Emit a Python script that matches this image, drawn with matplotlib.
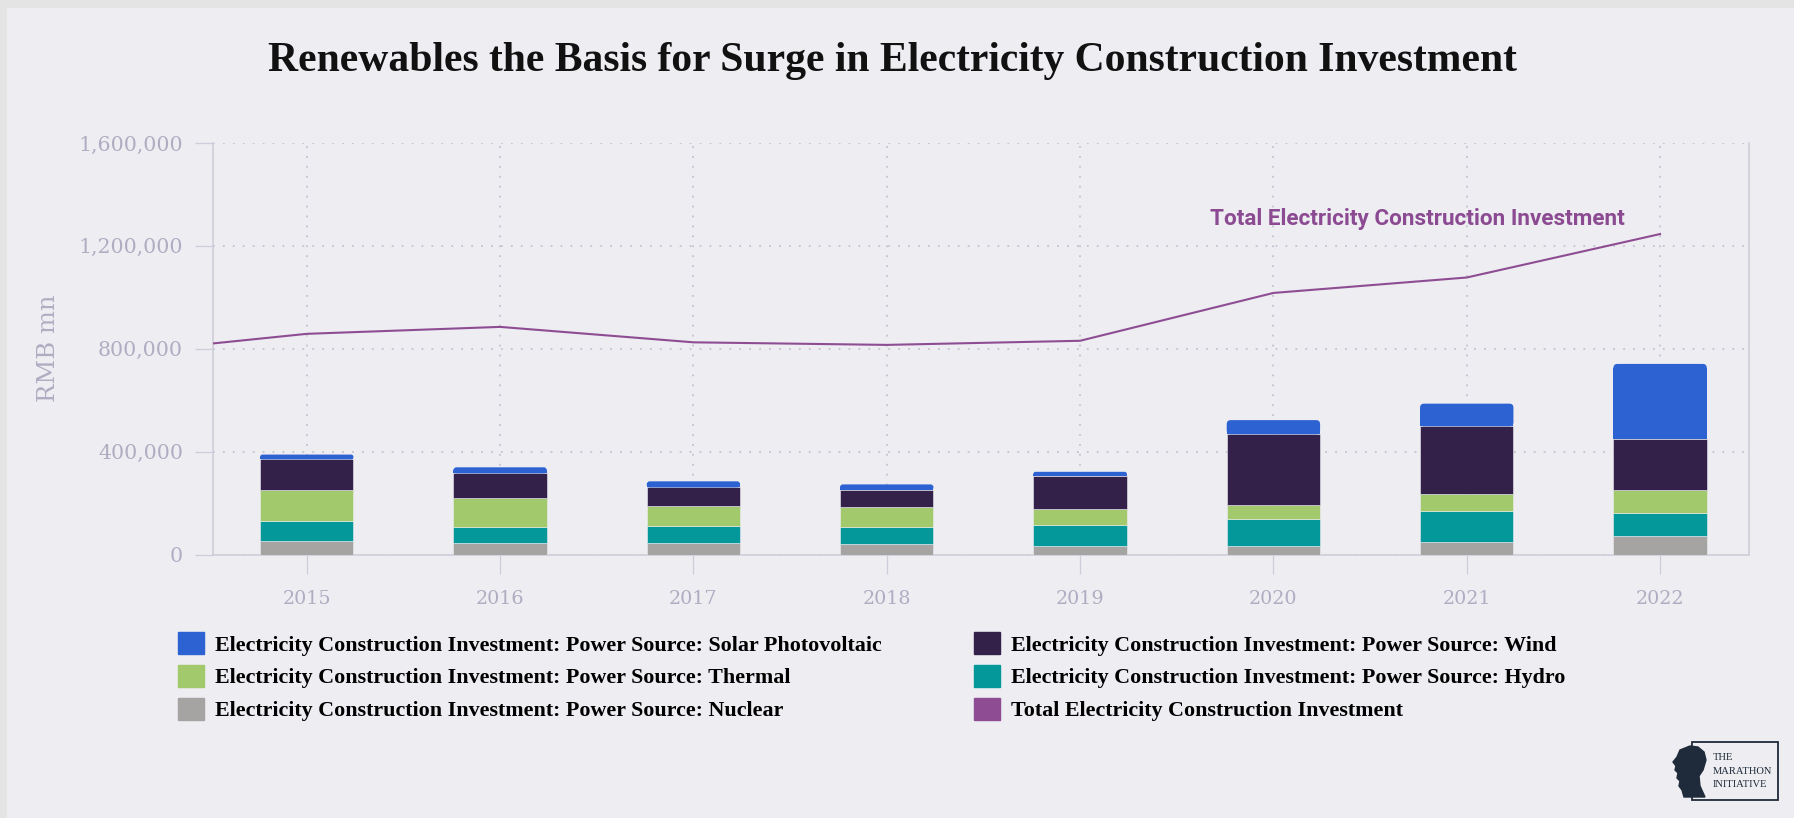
import numpy as np
import matplotlib.pyplot as plt
from matplotlib.patches import Patch, Rectangle, Polygon, FancyBboxPatch
from matplotlib.ticker import FuncFormatter

# canvas size in pixels (dpi 100)
W, H = 1794, 818

years = [2015, 2016, 2017, 2018, 2019, 2020, 2021, 2022]

# RMB mn, by power source
nuclear = [51000, 44000, 43500, 41000, 33000, 33000, 48500, 73500]
hydro = [81000, 64500, 65500, 64500, 80500, 104000, 120000, 87000]
thermal = [119000, 111000, 78500, 80500, 64500, 56500, 66000, 89500]
wind = [119000, 96000, 73500, 64500, 127500, 274000, 264000, 201000]
solar = [18500, 23500, 23500, 22000, 16000, 55000, 88000, 290000]

# total investment (2014 point sits just outside the left edge)
total_years = [2014, 2015, 2016, 2017, 2018, 2019, 2020, 2021, 2022]
total = [781000, 858000, 885000, 825000, 815000, 831000, 1017000, 1077000, 1246000]

yticks = [0, 400000, 800000, 1200000, 1600000]

prefix = 'Electricity Construction Investment: Power Source: '
series = [
    ('Nuclear', nuclear, '#A5A4A2'),
    ('Hydro', hydro, '#05989A'),
    ('Thermal', thermal, '#A2C96B'),
    ('Wind', wind, '#33214A'),
    ('Solar Photovoltaic', solar, '#2C62D1'),
]
total_label = 'Total Electricity Construction Investment'
total_color = '#8E4D93'

bg = '#EDEDF2'
axis_col = '#CFCDD9'
text_col = '#B0ADC2'
grid_col = '#C4C2D0'

XLIM = (2014.515, 2022.46)
YLIM = (0, 1600000)
BAR_W = 0.483


def px(x, y):
    # pixel position measured from the top-left corner -> figure fraction
    return x / W, 1 - y / H


fig = plt.figure(figsize=(W / 100, H / 100), dpi=100, facecolor=bg)

# thin frame strips on top and left
fig.patches.append(Rectangle((0, 1 - 8 / H), 1, 8 / H, transform=fig.transFigure,
                             facecolor='#E4E4E4', edgecolor='none', zorder=0))
fig.patches.append(Rectangle((0, 0), 7 / W, 1, transform=fig.transFigure,
                             facecolor='#E4E4E4', edgecolor='none', zorder=0))

ax_l, ax_t = 213, 143
ax_r, ax_b = 1749, 554.5
left, top = px(ax_l, ax_t)
right, bottom = px(ax_r, ax_b)
ax = fig.add_axes([left, bottom, right - left, top - bottom])
ax.set_facecolor(bg)
ax.set_xlim(*XLIM)
ax.set_ylim(*YLIM)

# data units per pixel, used for the rounded bar tops
xpp = (XLIM[1] - XLIM[0]) / (ax_r - ax_l)
ypp = (YLIM[1] - YLIM[0]) / (ax_b - ax_t)

# stacked bars; the top segment gets rounded upper corners
x = np.array(years)
base = np.zeros(len(years))
for k, (name, vals, col) in enumerate(series):
    if k < len(series) - 1:
        ax.bar(x, vals, width=BAR_W, bottom=base, color=col,
               edgecolor=bg, linewidth=0.4, zorder=3)
    else:
        for xi, b, h in zip(x, base, vals):
            r = min(4, h / ypp / 2)
            ax.add_patch(FancyBboxPatch((xi - BAR_W / 2, b), BAR_W, h,
                                        boxstyle=f'round,pad=0,rounding_size={r * xpp}',
                                        mutation_aspect=ypp / xpp, facecolor=col,
                                        edgecolor='none', zorder=3))
            ax.bar(xi, h - r * ypp, width=BAR_W, bottom=b, color=col,
                   edgecolor='none', zorder=3)
    base += np.array(vals)

ax.plot(total_years, total, color=total_color, lw=1.5, zorder=4)
ax.annotate(total_label, xy=(total_years[-1], total[-1]), xytext=(-35, 9),
            textcoords='offset pixels', ha='right', va='baseline',
            fontsize=16.2, fontfamily='Roboto', fontweight='bold', color='#8B4A91')

ax.set_xticks(years)
ax.set_yticks(yticks)
ax.yaxis.set_major_formatter(FuncFormatter(lambda v, p: f'{int(v):,}'))

ax.grid(True, color=grid_col, linestyle=(0, (1, 4.5)), linewidth=1.3, zorder=1)
ax.set_axisbelow(True)

for s in ['left', 'right', 'bottom']:
    ax.spines[s].set_color(axis_col)
    ax.spines[s].set_linewidth(1.2)
ax.spines['top'].set_visible(False)

ax.tick_params(axis='y', length=13, width=0.9, color=axis_col, pad=8.6,
               labelsize=14.8, labelcolor=text_col)
ax.tick_params(axis='x', length=13.7, width=0.9, color=axis_col, pad=12,
               labelsize=13.8, labelcolor=text_col)
for lab in ax.get_xticklabels() + ax.get_yticklabels():
    lab.set_fontfamily('DejaVu Serif')

ax.set_ylabel('RMB mn', fontsize=17.5, fontfamily='DejaVu Serif', color=text_col, va='center')
ax.yaxis.set_label_coords((48.5 - ax_l) / (ax_r - ax_l), 0.5)

fig.text(*px(892, 71), 'Renewables the Basis for Surge in Electricity Construction Investment',
         ha='center', va='baseline', fontsize=30, fontweight='bold',
         fontfamily='Liberation Serif', color='#111111')

# legend, row by row: Solar / Wind, Thermal / Hydro, Nuclear / Total
colors = {name: col for name, _, col in series}
order = ['Solar Photovoltaic', 'Thermal', 'Nuclear', 'Wind', 'Hydro']
handles = [Patch(facecolor=colors[n], edgecolor=colors[n], label=prefix + n) for n in order]
handles.append(Patch(facecolor=total_color, edgecolor=total_color, label=total_label))
fig.legend(handles=handles, ncol=2, loc='upper left', bbox_to_anchor=px(178, 632),
           frameon=False, borderpad=0, borderaxespad=0, handlelength=1.19,
           handleheight=1.19, handletextpad=0.5, labelspacing=0.42, columnspacing=4.2,
           prop={'family': 'Liberation Serif', 'weight': 'bold', 'size': 15.8})

# logo block, bottom right
logo_col = '#1F2B3A'
fig.patches.append(Rectangle(px(1692, 800), 86 / W, 58 / H, transform=fig.transFigure,
                             facecolor='none', edgecolor=logo_col, linewidth=1.3))
head = [(1690, 746), (1698, 747), (1704, 752), (1706, 760), (1703, 770), (1699, 776),
        (1700, 786), (1705, 797), (1684, 797), (1682, 790), (1679, 786), (1680, 781),
        (1677, 778), (1678, 773), (1675, 770), (1676, 766), (1673, 762), (1677, 757),
        (1680, 750)]
fig.patches.append(Polygon([px(a, b) for a, b in head], closed=True,
                           transform=fig.transFigure, facecolor=logo_col,
                           edgecolor=logo_col, zorder=5))
for i, word in enumerate(['THE', 'MARATHON', 'INITIATIVE']):
    fig.text(*px(1713, 760 + i * 13.5), word, ha='left', va='baseline', fontsize=7.6,
             fontfamily='Liberation Serif', color=logo_col)

fig.savefig('out.png', dpi=100, facecolor=bg)
